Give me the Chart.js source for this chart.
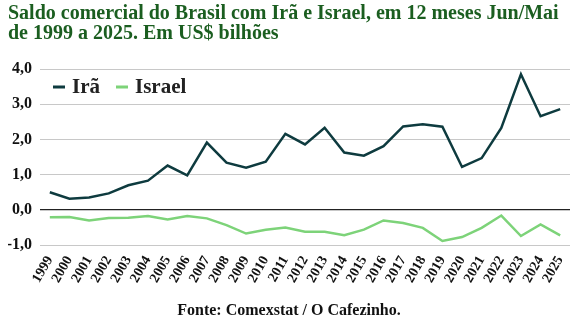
<!DOCTYPE html>
<html>
<head>
<meta charset="utf-8">
<script src="https://cdn.jsdelivr.net/npm/chart.js@4"></script>
<style>
  html, body { margin: 0; padding: 0; background: #fff; }
  #wrap { width: 582px; height: 328px; }
</style>
</head>
<body>
<div id="wrap"><canvas id="myChart"></canvas></div>
<script>
const years = ['1999','2000','2001','2002','2003','2004','2005','2006','2007','2008','2009','2010','2011','2012','2013','2014','2015','2016','2017','2018','2019','2020','2021','2022','2023','2024','2025'];
const ira = [0.50, 0.32, 0.35, 0.47, 0.70, 0.83, 1.26, 0.98, 1.91, 1.34, 1.20, 1.37, 2.16, 1.86, 2.33, 1.63, 1.54, 1.81, 2.37, 2.43, 2.36, 1.22, 1.47, 2.33, 3.85, 2.66, 2.86];
const israel = [-0.21, -0.20, -0.30, -0.23, -0.22, -0.17, -0.27, -0.17, -0.24, -0.43, -0.67, -0.56, -0.50, -0.62, -0.62, -0.72, -0.56, -0.30, -0.37, -0.51, -0.88, -0.77, -0.51, -0.16, -0.74, -0.41, -0.72];

const serif = "'Liberation Serif', 'DejaVu Serif', serif";

// legend drawn inside the plot area, top left
const insideLegend = {
    id: 'insideLegend',
    afterDraw(chart) {
        const c = chart.ctx;
        const area = chart.chartArea;
        let x = area.left + 13;
        const y = area.top + 18;
        c.save();
        c.font = 'bold 21px ' + serif;
        c.textBaseline = 'middle';
        chart.data.datasets.forEach((ds) => {
            c.fillStyle = ds.borderColor;
            c.fillRect(x, y - 1.5, 12, 3);
            x += 19;
            c.fillStyle = '#222';
            c.fillText(ds.label, x, y + 1);
            x += c.measureText(ds.label).width + 16;
        });
        c.restore();
    }
};

const ctx = document.getElementById('myChart').getContext('2d');
new Chart(ctx, {
    type: 'line',
    data: {
        labels: years,
        datasets: [
            { label: 'Irã', data: ira, borderColor: '#0e3b3f', backgroundColor: '#0e3b3f', borderWidth: 2.5, pointRadius: 0, tension: 0 },
            { label: 'Israel', data: israel, borderColor: '#7dd379', backgroundColor: '#7dd379', borderWidth: 2.5, pointRadius: 0, tension: 0 }
        ]
    },
    plugins: [insideLegend],
    options: {
        responsive: true,
        maintainAspectRatio: false,
        animation: false,
        layout: { padding: { left: 8, right: 12, top: 0, bottom: 4 } },
        plugins: {
            title: {
                display: true,
                text: ['Saldo comercial do Brasil com Irã e Israel, em 12 meses Jun/Mai', 'de 1999 a 2025. Em US$ bilhões'],
                align: 'start',
                color: '#1b5e20',
                font: { family: serif, size: 20, weight: 'bold', lineHeight: 1.0 },
                padding: { top: 4, bottom: 25 }
            },
            subtitle: {
                display: true,
                position: 'bottom',
                text: 'Fonte: Comexstat / O Cafezinho.',
                color: '#111',
                font: { family: serif, size: 16, weight: 'bold' },
                padding: { top: 15, bottom: 4 }
            },
            legend: { display: false },
            tooltip: { enabled: false }
        },
        scales: {
            x: {
                offset: true,
                grid: { display: false },
                border: { display: false },
                ticks: {
                    minRotation: 60,
                    maxRotation: 60,
                    autoSkip: false,
                    color: '#111',
                    padding: 0,
                    font: { family: serif, size: 14, weight: 'bold' }
                }
            },
            y: {
                min: -1,
                max: 4,
                border: { display: false },
                afterFit: (scale) => { scale.width = 32; },
                grid: {
                    drawTicks: false,
                    color: (c) => c.tick && c.tick.value === 0 ? '#222' : '#c8c8c8',
                    lineWidth: (c) => c.tick && c.tick.value === 0 ? 1.2 : 1
                },
                ticks: {
                    stepSize: 1,
                    padding: 8,
                    color: '#111',
                    font: { family: serif, size: 16, weight: 'bold' },
                    callback: (v) => v.toFixed(1).replace('.', ',')
                }
            }
        }
    }
});
</script>
</body>
</html>
